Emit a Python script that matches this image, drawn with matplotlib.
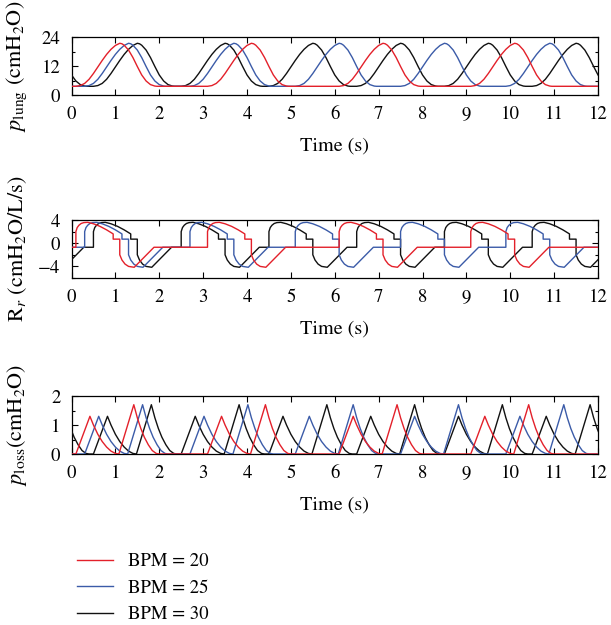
import numpy as np
import matplotlib.pyplot as plt
from matplotlib.ticker import MultipleLocator

plt.rcParams["font.family"] = "STIXGeneral"
plt.rcParams["mathtext.fontset"] = "stix"

# breathing rates and the start of each inspiration (s)
bpm = [20, 25, 30]
onsets_20 = [-2.9, 0.1, 3.1, 6.1, 9.1, 12.1]
onsets_25 = [-2.1, 0.3, 2.7, 5.1, 7.5, 9.9, 12.3]
onsets_30 = [-1.5, 0.5, 2.5, 4.5, 6.5, 8.5, 10.5, 12.5]

# one breath, time counted from the start of inspiration
p_lung_t = [0.0, 0.1, 0.2, 0.3, 0.4, 0.5, 0.6, 0.7, 0.8, 0.9, 1.0,
            1.05, 1.1, 1.2, 1.3, 1.4, 1.5, 1.6, 1.7, 1.8, 1.85]
p_lung_v = [3.6, 3.9, 4.8, 6.5, 8.9, 11.6, 14.3, 16.8, 18.9, 20.5, 21.4,
            21.2, 20.6, 18.6, 15.5, 11.8, 8.3, 5.8, 4.3, 3.7, 3.6]

r_r_t = [0.0, 0.0, 0.03, 0.07, 0.12, 0.18, 0.27, 0.40, 0.55, 0.70, 0.85, 0.85,
         1.0, 1.0, 1.05, 1.12, 1.2, 1.33, 1.78]
r_r_v = [-0.7, 2.0, 2.7, 3.1, 3.4, 3.55, 3.6, 3.35, 2.9, 2.3, 1.6, 0.7,
         0.7, -2.0, -2.9, -3.6, -4.0, -4.15, -0.7]

p_loss_t = [0.0, 0.32, 0.40, 0.50, 0.60, 0.70, 0.80, 0.90, 0.98,
            1.32, 1.40, 1.48, 1.56, 1.65, 1.74, 1.83, 1.9]
p_loss_v = [0.0, 1.3, 1.0, 0.68, 0.43, 0.24, 0.1, 0.02, 0.0,
            1.7, 1.25, 0.88, 0.58, 0.32, 0.12, 0.02, 0.0]

colors = ["#e3202a", "#3b5ba8", "#111111"]


def breath_train(onsets, t_cycle, v_cycle):
    t = np.concatenate([onset + np.asarray(t_cycle) for onset in onsets])
    v = np.tile(v_cycle, len(onsets))
    return t, v


figure = plt.figure(figsize=(6.11, 6.25), dpi=100)
left, width, height = 71.5 / 611, 526.5 / 611, 58 / 625
bottoms = [1 - 95 / 625, 1 - 278 / 625, 1 - 454 / 625]

panels = [
    (p_lung_t, p_lung_v, (0, 24), 12, 6, r"$p_{\mathrm{lung}}$ (cmH$_2$O)"),
    (r_r_t, r_r_v, (-6, 4), 4, 2, r"R$_r$ (cmH$_2$O/L/s)"),
    (p_loss_t, p_loss_v, (0, 2), 1, 0.5, r"$p_{\mathrm{loss}}$(cmH$_2$O)"),
]

handles = []
for bottom, (t_cycle, v_cycle, ylim, major, minor, ylabel) in zip(bottoms, panels):
    ax = figure.add_axes([left, bottom, width, height])
    lines = []
    for onsets, color in zip([onsets_30, onsets_25, onsets_20], colors[::-1]):
        t, v = breath_train(onsets, t_cycle, v_cycle)
        (line,) = ax.plot(t, v, color=color, linewidth=1.0, zorder=3)
        lines.append(line)
    handles = lines[::-1]

    ax.set_xlim(0, 12)
    ax.set_ylim(*ylim)
    ax.xaxis.set_major_locator(MultipleLocator(1))
    ax.yaxis.set_major_locator(MultipleLocator(major))
    ax.yaxis.set_minor_locator(MultipleLocator(minor))
    ax.tick_params(which="both", direction="in", top=True, right=True, labelsize=13.5, pad=8)
    ax.tick_params(which="major", length=4, width=0.8)
    ax.tick_params(which="minor", length=2.5, width=0.8)
    for spine in ax.spines.values():
        spine.set_linewidth(0.9)
    ax.set_xlabel("Time (s)", fontsize=14.5, labelpad=10)
    ax.set_ylabel(ylabel, fontsize=16)
    ax.yaxis.set_label_coords(-0.08, 0.5)

figure.legend(
    handles,
    [f"BPM = {b}" for b in bpm],
    loc="upper left",
    bbox_to_anchor=(77 / 611, 1 - 553 / 625),
    frameon=False,
    fontsize=13.5,
    handlelength=1.9,
    handletextpad=0.8,
    labelspacing=0.5,
    borderpad=0,
    borderaxespad=0,
)

figure.savefig("out.png", dpi=100)
